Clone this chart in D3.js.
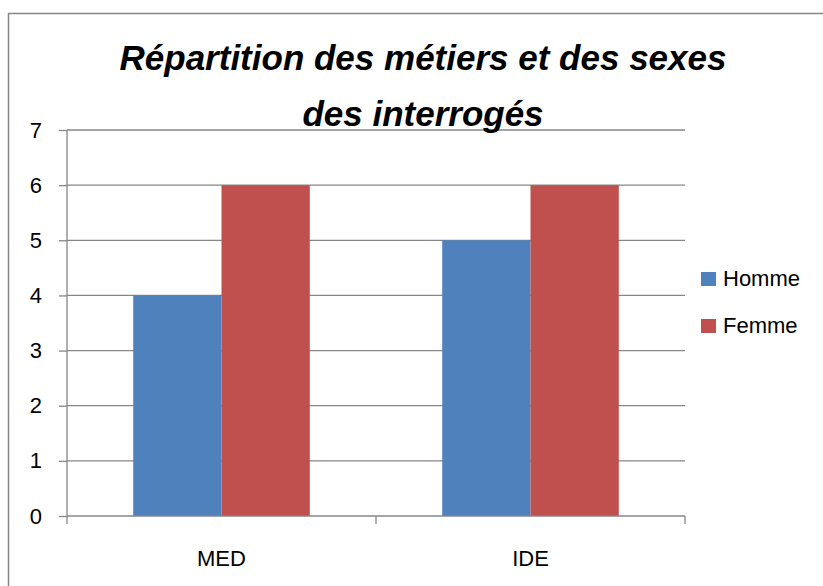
<!DOCTYPE html>
<html>
<head>
<meta charset="utf-8">
<script src="https://cdn.jsdelivr.net/npm/d3@7"></script>
<style>
  body { margin: 0; background: #fff; }
  text { font-family: "Liberation Sans", Arial, sans-serif; fill: #000; }
</style>
</head>
<body>
<div id="chart"></div>
<script>
'use strict'

// data
const categories = ['MED', 'IDE']
const seriesNames = ['Homme', 'Femme']
const homme = [4, 5]
const femme = [6, 6]
const yTicks = [0, 1, 2, 3, 4, 5, 6, 7]
const titleLines = ['Répartition des métiers et des sexes', 'des interrogés']

const colors = ['#4F81BD', '#C0504D']
const gridColor = '#868686'

////////////////////////////////////
//////////// svg setup /////////////
////////////////////////////////////

const svgWidth = 823
const svgHeight = 586

const plot = { left: 67, right: 685, top: 130, bottom: 516 }

const svg = d3.select('#chart').append('svg')
    .attr('width', svgWidth)
    .attr('height', svgHeight)

// outer chart frame (runs off the right and bottom edges)
svg.append('rect')
    .attr('x', 8.5)
    .attr('y', 13.5)
    .attr('width', 840)
    .attr('height', 620)
    .attr('fill', 'none')
    .attr('stroke', gridColor)
    .attr('stroke-width', 1.5)

////////////////////////////////////
//////////////scales////////////////
////////////////////////////////////

const table = categories.map((c, i) => ({ cat: c, values: [homme[i], femme[i]] }))

const xScale = d3.scaleBand()
    .domain(categories)
    .range([plot.left, plot.right])

const xInner = d3.scaleBand()
    .domain(seriesNames)
    .range([0, xScale.bandwidth()])
    .paddingOuter(0.75)

const yScale = d3.scaleLinear()
    .domain([0, 7])
    .range([plot.bottom, plot.top])

////////////////////////////////////
///////////////grid/////////////////
////////////////////////////////////

svg.append('g')
    .selectAll('line')
    .data(yTicks.filter(d => d > 0))
    .join('line')
    .attr('x1', plot.left)
    .attr('x2', plot.right)
    .attr('y1', d => yScale(d))
    .attr('y2', d => yScale(d))
    .attr('stroke', gridColor)
    .attr('stroke-width', 1.3)

////////////////////////////////////
/////////////// bars ///////////////
////////////////////////////////////

svg.append('g')
    .selectAll('g')
    .data(table)
    .join('g')
    .attr('transform', d => `translate(${xScale(d.cat)},0)`)
    .selectAll('rect')
    .data(d => d.values.map((v, i) => ({ key: seriesNames[i], value: v, i: i })))
    .join('rect')
    .attr('x', d => xInner(d.key))
    .attr('width', xInner.bandwidth())
    .attr('y', d => yScale(d.value))
    .attr('height', d => yScale(0) - yScale(d.value))
    .attr('fill', d => colors[d.i])

////////////////////////////////////
///////////////axis/////////////////
////////////////////////////////////

const yAxis = d3.axisLeft(yScale)
    .tickValues(yTicks)
    .tickSize(8)
    .tickPadding(17)
    .tickFormat(d3.format('d'))

const yG = svg.append('g')
    .attr('transform', `translate(${plot.left},0)`)
    .call(yAxis)

yG.select('.domain').remove()
yG.append('line')
    .attr('x1', 0).attr('x2', 0)
    .attr('y1', plot.top).attr('y2', plot.bottom)
    .attr('stroke', gridColor)
    .attr('stroke-width', 1.3)
yG.selectAll('.tick line').attr('stroke', gridColor).attr('stroke-width', 1.3)
yG.selectAll('.tick text')
    .attr('font-size', 22)
    .attr('font-family', '"Liberation Sans", Arial, sans-serif')
    .attr('fill', '#000')

// category axis: ticks sit on the band edges
const xEdges = categories.map(c => xScale(c)).concat([plot.right])

const xG = svg.append('g')
xG.append('line')
    .attr('x1', plot.left).attr('x2', plot.right)
    .attr('y1', plot.bottom).attr('y2', plot.bottom)
    .attr('stroke', gridColor)
    .attr('stroke-width', 1.3)
xG.selectAll('line.tick')
    .data(xEdges)
    .join('line')
    .attr('class', 'tick')
    .attr('x1', d => d).attr('x2', d => d)
    .attr('y1', plot.bottom).attr('y2', plot.bottom + 8)
    .attr('stroke', gridColor)
    .attr('stroke-width', 1.3)
xG.selectAll('text')
    .data(categories)
    .join('text')
    .attr('x', d => xScale(d) + xScale.bandwidth() / 2)
    .attr('y', 566)
    .attr('text-anchor', 'middle')
    .attr('font-size', 22)
    .text(d => d)

////////////////////////////////////
////////////// legend //////////////
////////////////////////////////////

const legend = svg.append('g')
    .selectAll('g')
    .data(seriesNames)
    .join('g')
    .attr('transform', (d, i) => `translate(701,${272 + i * 47})`)

legend.append('rect')
    .attr('width', 15)
    .attr('height', 14)
    .attr('fill', (d, i) => colors[i])

legend.append('text')
    .attr('x', 22)
    .attr('y', 14)
    .attr('font-size', 22)
    .text(d => d)

////////////////////////////////////
////////////// title ///////////////
////////////////////////////////////

svg.append('g')
    .selectAll('text')
    .data(titleLines)
    .join('text')
    .attr('x', 423)
    .attr('y', (d, i) => 70 + i * 56)
    .attr('text-anchor', 'middle')
    .attr('font-size', 35)
    .attr('font-weight', 'bold')
    .attr('font-style', 'italic')
    .text(d => d)
</script>
</body>
</html>
